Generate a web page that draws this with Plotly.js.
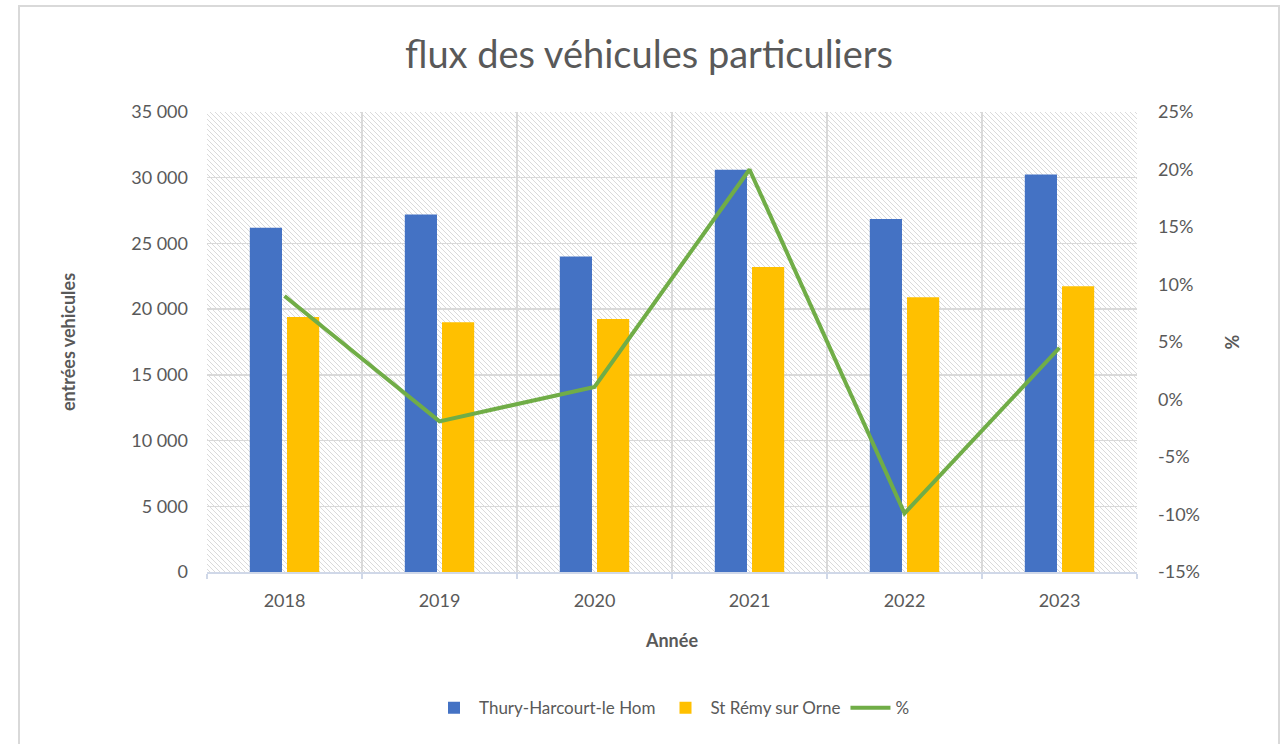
<!DOCTYPE html>
<html><head><meta charset="utf-8">
<script src="https://cdn.plot.ly/plotly-3.0.1.min.js"></script>
<style>
html,body{margin:0;padding:0;background:#fff;overflow:hidden}
#frame{position:absolute;left:18px;top:5px;width:1258px;height:760px;border:2px solid #d9d9d9;}
#chart{width:1258px;height:737px;}
#chart .bglayer > *{fill:url(#bgHatch) !important;}
</style></head><body>
<svg width="0" height="0" style="position:absolute;left:0;top:0" aria-hidden="true">
  <defs>
    <pattern id="bgHatch" patternUnits="userSpaceOnUse" width="5" height="5">
      <rect width="5" height="5" fill="#ffffff"></rect>
      <path d="M0,0 L5,5 M-1,4 L1,6 M4,-1 L6,1" stroke="#dadada" stroke-width="1"></path>
    </pattern>
  </defs>
</svg>
<div id="frame"><div id="chart"></div></div>
<script>
const years = ['2018', '2019', '2020', '2021', '2022', '2023'];
const thury = [26200, 27200, 24000, 30600, 26850, 30250];
const stRemy = [19400, 19000, 19250, 23200, 20900, 21750];
const pct = [0.09, -0.019, 0.011, 0.20, -0.099, 0.045];
const pctTickVals = [-0.15, -0.10, -0.05, 0, 0.05, 0.10, 0.15, 0.20, 0.25];
const pctTickText = ['-15%', '-10%', '-5%', '0%', '5%', '10%', '15%', '20%', '25%'];

const FONT = 'Lato, "Open Sans", sans-serif';
const GREY = '#595959';

const traces = [
  {type: 'bar', name: 'Thury-Harcourt-le Hom', x: years, y: thury,
   marker: {color: '#4472c4'}, hoverinfo: 'y'},
  {type: 'bar', name: 'St Rémy sur Orne', x: years, y: stRemy,
   marker: {color: '#ffc000'}, hoverinfo: 'y'},
  {type: 'scatter', mode: 'lines', name: '%', x: years, y: pct, yaxis: 'y2',
   line: {color: '#70ad47', width: 4}, hoverinfo: 'y'}
];

const layout = {
  width: 1258, height: 737,
  margin: {l: 187, r: 141, t: 105, b: 172},
  paper_bgcolor: '#ffffff',
  plot_bgcolor: '#fefefe',
  separators: ', ',
  font: {family: FONT, color: GREY, size: 18},
  title: {text: 'flux des véhicules particuliers', x: 0.5, xref: 'container',
          y: 0.935, yanchor: 'middle', font: {family: FONT, size: 38, color: GREY}},
  barmode: 'group', bargap: 0.52, bargroupgap: 0.135,
  showlegend: true,
  legend: {orientation: 'h', x: 0.5, xanchor: 'center', y: -0.296, yanchor: 'middle',
           bgcolor: '#ffffff',
           font: {family: FONT, size: 17, color: GREY}, traceorder: 'normal', itemwidth: 40},
  xaxis: {
    type: 'category', tickson: 'boundaries', ticks: 'outside', ticklen: 5,
    tickcolor: '#d0d8e8', tickwidth: 1.5,
    showline: true, linecolor: '#d0d8e8', linewidth: 1.5,
    showgrid: true, gridcolor: '#d9d9d9', gridwidth: 1.5,
    ticklabelstandoff: 12,
    tickfont: {family: FONT, size: 18, color: GREY},
    title: {text: '<b>Année</b>', standoff: 24, font: {family: FONT, size: 18, color: GREY}}
  },
  yaxis: {
    range: [0, 35000], dtick: 5000, tick0: 0, tickformat: ',d',
    showgrid: true, gridcolor: '#d9d9d9', gridwidth: 1.5, zeroline: false,
    showline: false, ticks: '', ticklabelstandoff: 18,
    tickfont: {family: FONT, size: 18, color: GREY},
    title: {text: '<b>entrées vehicules</b>', standoff: 50, font: {family: FONT, size: 18, color: GREY}}
  },
  yaxis2: {
    overlaying: 'y', side: 'right', range: [-0.15, 0.25],
    tickvals: pctTickVals, ticktext: pctTickText,
    showgrid: false, zeroline: false, showline: false, ticks: '', ticklabelstandoff: 20,
    tickfont: {family: FONT, size: 18, color: GREY},
    title: {text: '<b>%</b>', standoff: 27, font: {family: FONT, size: 18, color: GREY}}
  }
};

Plotly.newPlot('chart', traces, layout, {displayModeBar: false, staticPlot: true});
</script>
</body></html>
